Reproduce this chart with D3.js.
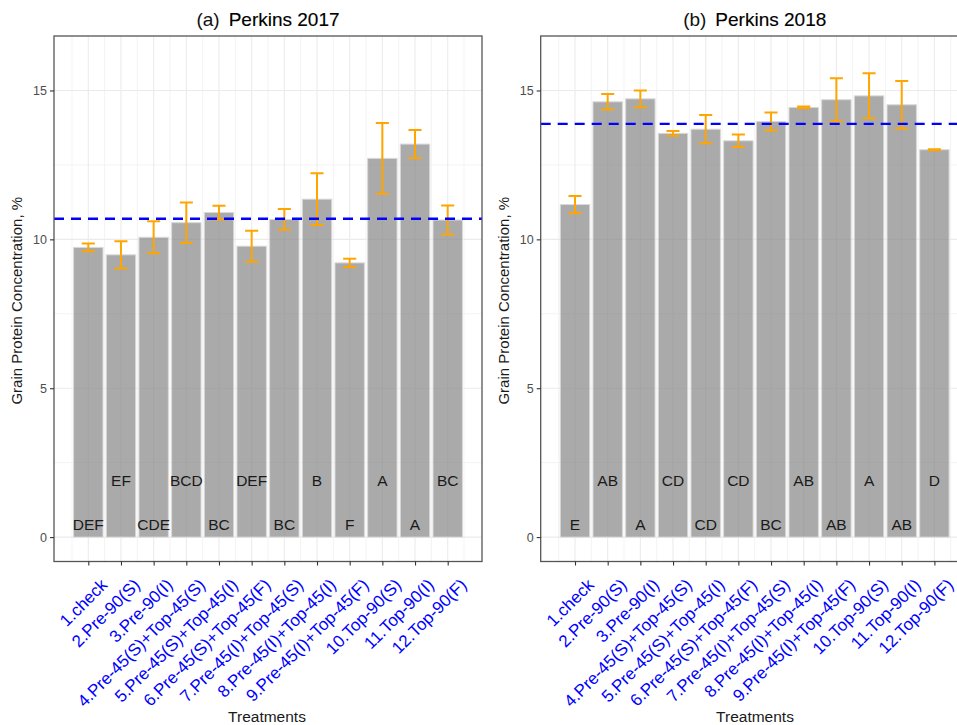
<!DOCTYPE html>
<html>
<head>
<meta charset="utf-8">
<script src="https://cdn.jsdelivr.net/npm/d3@7/dist/d3.min.js"></script>
<style>
  html, body { margin: 0; padding: 0; background: #fff; }
  svg { display: block; font-family: "Liberation Sans", Arial, sans-serif; }
</style>
</head>
<body>
<svg id="chart" width="957" height="725"></svg>
<script>
// Treatments shown on the x axis of both panels
const treatments = [
  "1.check", "2.Pre-90(S)", "3.Pre-90(I)", "4.Pre-45(S)+Top-45(S)",
  "5.Pre-45(S)+Top-45(I)", "6.Pre-45(S)+Top-45(F)", "7.Pre-45(I)+Top-45(S)",
  "8.Pre-45(I)+Top-45(I)", "9.Pre-45(I)+Top-45(F)", "10.Top-90(S)",
  "11.Top-90(I)", "12.Top-90(F)"
];

// Perkins 2017: mean grain protein (%) and standard error
const gpc2017 = [9.73, 9.48, 10.07, 10.56, 10.90, 9.77, 10.67, 11.35, 9.21, 12.72, 13.20, 10.65];
const se2017 = [0.13, 0.46, 0.54, 0.68, 0.23, 0.52, 0.35, 0.87, 0.14, 1.19, 0.47, 0.49];
const letters2017 = ["DEF", "EF", "CDE", "BCD", "BC", "DEF", "BC", "B", "F", "A", "A", "BC"];
const mean2017 = 10.69;

// Perkins 2018: mean grain protein (%) and standard error
const gpc2018 = [11.17, 14.62, 14.72, 13.56, 13.70, 13.31, 13.96, 14.43, 14.69, 14.82, 14.52, 13.01];
const se2018 = [0.29, 0.26, 0.28, 0.08, 0.475, 0.21, 0.30, 0.03, 0.725, 0.755, 0.80, 0.02];
const letters2018 = ["E", "AB", "A", "CD", "CD", "CD", "BC", "AB", "AB", "A", "AB", "D"];
const mean2018 = 13.88;

// Axis ticks and letter heights (data units)
const yTicks = [0, 5, 10, 15];
const yMinor = [2.5, 7.5, 12.5];
const letterY = [0.5, 2];

const svg = d3.select("#chart");

const panelTop = 36, panelBottom = 561.5, panelWidth = 428;
const y = d3.scaleLinear().domain([-0.82, 16.83]).range([panelBottom, panelTop]);

function drawPanel(opts) {
  const left = opts.left, right = left + panelWidth;
  const x = d3.scaleLinear().domain([-0.05, 13.05]).range([left, right]);
  const idx = d3.range(1, treatments.length + 1);
  const g = svg.append("g");

  const clipId = "clip" + opts.key;
  svg.append("defs").append("clipPath").attr("id", clipId)
    .append("rect").attr("x", left).attr("y", panelTop)
    .attr("width", panelWidth).attr("height", panelBottom - panelTop);

  const inner = g.append("g").attr("clip-path", `url(#${clipId})`);

  // minor grid
  const xMinor = d3.range(0.5, 13, 1);
  inner.selectAll(".vminor").data(xMinor).join("line")
    .attr("x1", d => x(d)).attr("x2", d => x(d))
    .attr("y1", panelTop).attr("y2", panelBottom)
    .attr("stroke", "#f3f3f3").attr("stroke-width", 1);
  inner.selectAll(".hminor").data(yMinor).join("line")
    .attr("x1", left).attr("x2", right)
    .attr("y1", d => y(d)).attr("y2", d => y(d))
    .attr("stroke", "#f3f3f3").attr("stroke-width", 1);
  // major grid
  inner.selectAll(".vmajor").data(idx).join("line")
    .attr("x1", d => x(d)).attr("x2", d => x(d))
    .attr("y1", panelTop).attr("y2", panelBottom)
    .attr("stroke", "#ebebeb").attr("stroke-width", 1.1);
  inner.selectAll(".hmajor").data(yTicks).join("line")
    .attr("x1", left).attr("x2", right)
    .attr("y1", d => y(d)).attr("y2", d => y(d))
    .attr("stroke", "#ebebeb").attr("stroke-width", 1.1);

  const rows = treatments.map((t, i) => ({
    i: i + 1, v: opts.values[i], se: opts.se[i], letter: opts.letters[i],
    ly: letterY[i % 2]
  }));

  const bw = 0.9, cap = 0.4;
  // bars
  inner.selectAll(".bar").data(rows).join("rect")
    .attr("x", d => x(d.i - bw / 2))
    .attr("width", x(bw) - x(0))
    .attr("y", d => y(d.v))
    .attr("height", d => y(0) - y(d.v))
    .attr("fill", "#868686").attr("fill-opacity", 0.7)
    .attr("stroke", "#d9d9d9").attr("stroke-width", 1);

  // error bars
  const eb = inner.selectAll(".eb").data(rows).join("g")
    .attr("stroke", "#FFA500").attr("stroke-width", 2).attr("fill", "none");
  eb.append("line")
    .attr("x1", d => x(d.i)).attr("x2", d => x(d.i))
    .attr("y1", d => y(d.v - d.se)).attr("y2", d => y(d.v + d.se));
  eb.append("line")
    .attr("x1", d => x(d.i - cap / 2)).attr("x2", d => x(d.i + cap / 2))
    .attr("y1", d => y(d.v + d.se)).attr("y2", d => y(d.v + d.se));
  eb.append("line")
    .attr("x1", d => x(d.i - cap / 2)).attr("x2", d => x(d.i + cap / 2))
    .attr("y1", d => y(d.v - d.se)).attr("y2", d => y(d.v - d.se));

  // overall mean line
  inner.append("line")
    .attr("x1", left).attr("x2", right)
    .attr("y1", y(opts.mean)).attr("y2", y(opts.mean))
    .attr("stroke", "#0000FF").attr("stroke-width", 2.4)
    .attr("stroke-dasharray", "10,7");

  // mean separation letters
  inner.selectAll(".letter").data(rows).join("text")
    .attr("x", d => x(d.i)).attr("y", d => y(d.ly))
    .attr("dy", "0.52em")
    .attr("text-anchor", "middle")
    .attr("font-size", 15.5).attr("fill", "#1a1a1a")
    .text(d => d.letter);

  // panel border
  g.append("rect")
    .attr("x", left).attr("y", panelTop)
    .attr("width", panelWidth).attr("height", panelBottom - panelTop)
    .attr("fill", "none").attr("stroke", "#555").attr("stroke-width", 1.3);

  // y axis
  const yAxis = g.append("g").attr("transform", `translate(${left},0)`)
    .call(d3.axisLeft(y).tickValues(yTicks).tickSize(4).tickPadding(3));
  yAxis.select(".domain").remove();
  yAxis.selectAll(".tick line").attr("stroke", "#333").attr("stroke-width", 1.1);
  yAxis.selectAll(".tick text").attr("font-size", 12.5).attr("fill", "#4d4d4d")
    .attr("font-family", "Liberation Sans, Arial, sans-serif");

  // x axis
  const xAxis = g.append("g").attr("transform", `translate(0,${panelBottom})`)
    .call(d3.axisBottom(x).tickValues(idx).tickSize(4).tickFormat(d => treatments[d - 1]));
  xAxis.select(".domain").remove();
  xAxis.selectAll(".tick line").attr("stroke", "#333").attr("stroke-width", 1.1);
  xAxis.selectAll(".tick text")
    .attr("font-size", 17).attr("fill", "#0000FF")
    .attr("font-family", "Liberation Sans, Arial, sans-serif")
    .attr("text-anchor", "end")
    .attr("y", 0).attr("dy", 0)
    .attr("transform", "translate(19.5,24.5) rotate(-45)");

  // title
  const cx = left + panelWidth / 2;
  const title = g.append("text")
    .attr("x", cx).attr("y", 25.5).attr("text-anchor", "middle")
    .attr("font-size", 19).attr("fill", "#111");
  title.append("tspan").text(opts.tag);
  title.append("tspan").attr("dx", 9).attr("fill", "#000")
    .attr("stroke", "#000").attr("stroke-width", 0.15).text(opts.title);

  // axis titles
  g.append("text")
    .attr("transform", `translate(${left - 32},${(panelTop + panelBottom) / 2 + 2}) rotate(-90)`)
    .attr("text-anchor", "middle").attr("font-size", 15).attr("fill", "#1a1a1a")
    .text("Grain Protein Concentration, %");
  g.append("text")
    .attr("x", opts.xTitleX).attr("y", 722).attr("text-anchor", "middle")
    .attr("font-size", 15.5).attr("fill", "#1a1a1a")
    .text("Treatments");
}

drawPanel({ key: "a", left: 54, tag: "(a)", title: "Perkins 2017",
  values: gpc2017, se: se2017, letters: letters2017, mean: mean2017, xTitleX: 267 });
drawPanel({ key: "b", left: 540.7, tag: "(b)", title: "Perkins 2018",
  values: gpc2018, se: se2018, letters: letters2018, mean: mean2018, xTitleX: 755 });
</script>
</body>
</html>
